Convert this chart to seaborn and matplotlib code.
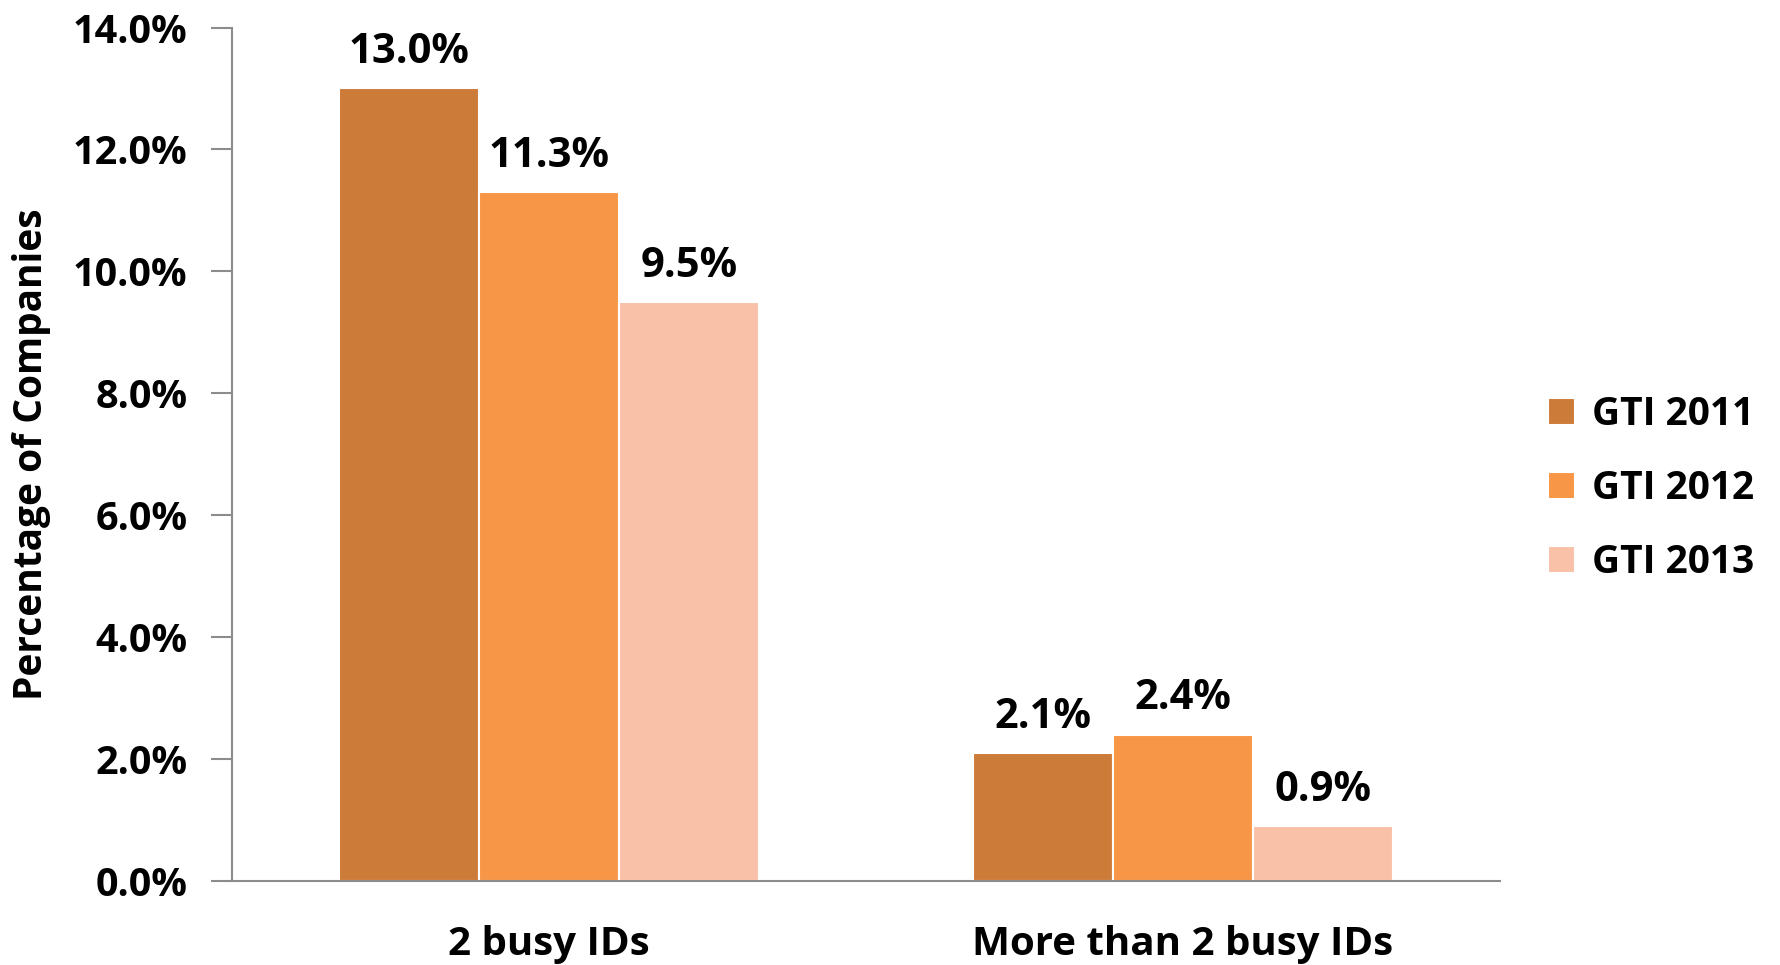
import matplotlib
matplotlib.use("Agg")
import matplotlib.pyplot as plt
import seaborn as sns
import pandas as pd

categories = ["2 busy IDs", "More than 2 busy IDs"]
series = ["GTI 2011", "GTI 2012", "GTI 2013"]
values_2011 = [13.0, 2.1]
values_2012 = [11.3, 2.4]
values_2013 = [9.5, 0.9]
y_ticks = [0, 2, 4, 6, 8, 10, 12, 14]
colors = ["#CD7B38", "#F79646", "#F9C2A8"]

rows = []
for s, vals in zip(series, [values_2011, values_2012, values_2013]):
    for c, v in zip(categories, vals):
        rows.append({"category": c, "series": s, "value": v})
df = pd.DataFrame(rows)

sns.set_style("white")
plt.rcParams["font.family"] = ["Open Sans", "DejaVu Sans"]
plt.rcParams["font.weight"] = "bold"
plt.rcParams["text.color"] = "black"
plt.rcParams["axes.labelcolor"] = "black"

fig = plt.figure(figsize=(17.81, 9.65), dpi=100)
ax = fig.add_axes([0.1303, 0.087, 0.7119, 0.8845])

sns.barplot(data=df, x="category", y="value", hue="series", palette=colors,
            width=0.662, gap=0, edgecolor="white", linewidth=1.5,
            saturation=1, ax=ax, legend=True)

ax.set_ylim(0, 14)
ax.set_yticks(y_ticks)
ax.set_yticklabels([f"{t:.1f}%" for t in y_ticks])
ax.set_xlim(-0.5, 1.5)

for cont in ax.containers:
    ax.bar_label(cont, labels=[f"{b.get_height():.1f}%" for b in cont],
                 padding=11, fontsize=30, fontweight="bold", color="black")

for side in ["top", "right"]:
    ax.spines[side].set_visible(False)
for side in ["left", "bottom"]:
    ax.spines[side].set_color("#8c8c8c")
    ax.spines[side].set_linewidth(1.5)

ax.tick_params(axis="y", which="major", direction="out", length=15, width=1.5,
               color="#8c8c8c", labelcolor="black", labelsize=28.5, pad=17,
               left=True)
ax.tick_params(axis="x", length=0, labelsize=29, pad=32, labelcolor="black")
for lab in ax.get_xticklabels() + ax.get_yticklabels():
    lab.set_fontweight("bold")

ax.set_xlabel("")
ax.set_ylabel("Percentage of Companies", fontsize=28, fontweight="bold",
              color="black")
ax.yaxis.set_label_coords(-0.143, 0.5)

handles, labels = ax.get_legend_handles_labels()
leg = ax.legend(handles, labels, loc="center left", bbox_to_anchor=(1.01, 0.46),
                frameon=False, handlelength=0.7, handleheight=0.7,
                handletextpad=0.45, labelspacing=0.9,
                prop={"weight": "bold", "size": 28})
for t in leg.get_texts():
    t.set_color("black")

fig.savefig("out.png", dpi=100, facecolor="white")
